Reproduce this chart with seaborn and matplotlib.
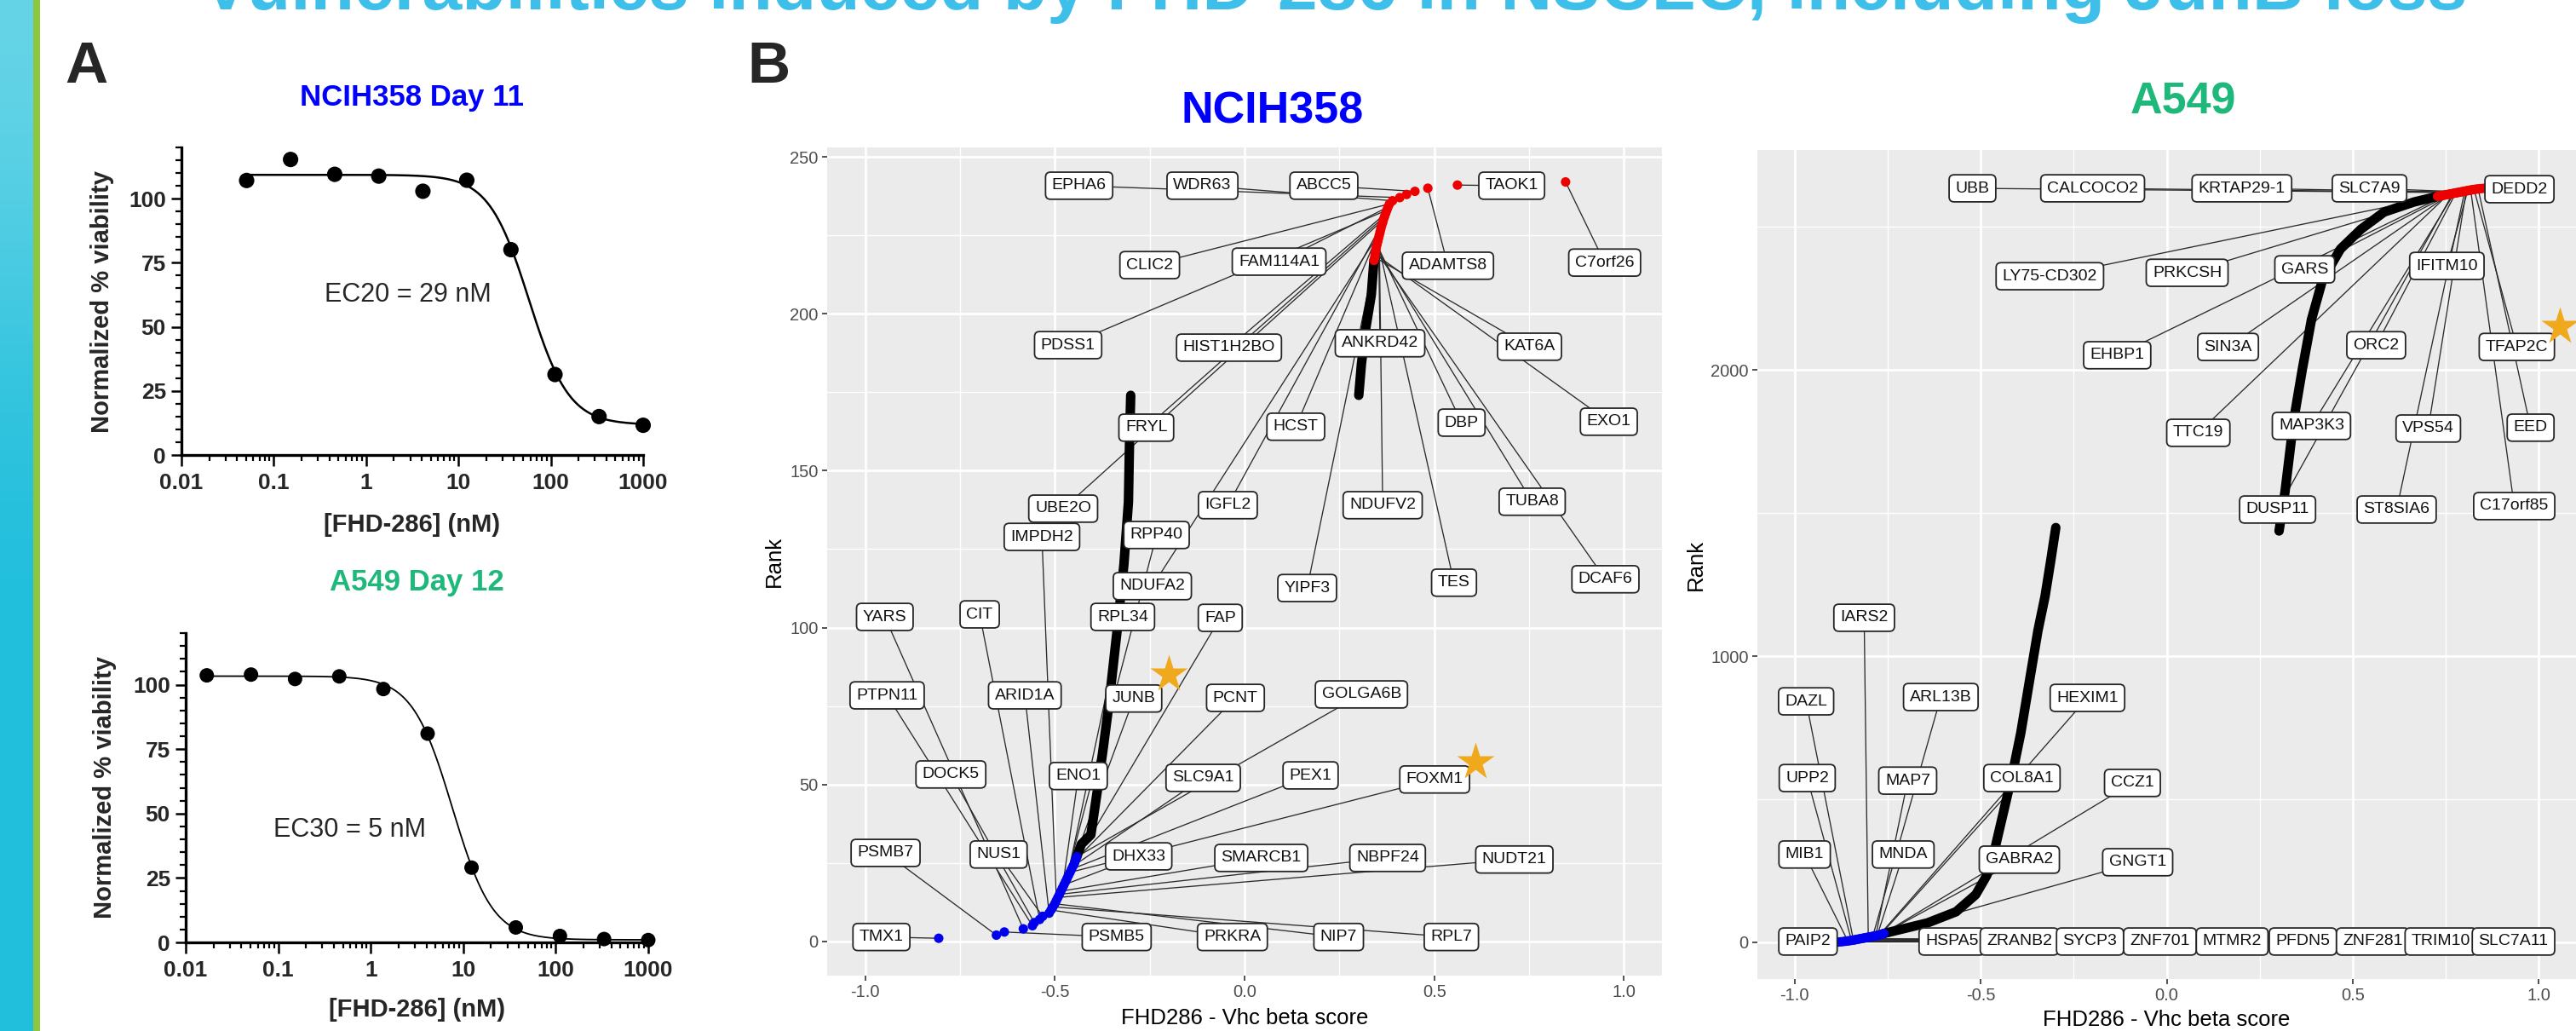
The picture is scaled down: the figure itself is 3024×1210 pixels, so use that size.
import numpy as np
import matplotlib
matplotlib.use("Agg")
import matplotlib.pyplot as plt
import seaborn as sns
from matplotlib import font_manager
from matplotlib.colors import LinearSegmentedColormap
from matplotlib.ticker import FixedLocator, LogLocator, MultipleLocator, NullFormatter
from matplotlib.transforms import ScaledTranslation

sns.set_theme(style="white")
plt.rcParams["font.family"] = ["Liberation Sans", "DejaVu Sans"]
plt.rcParams["axes.unicode_minus"] = False

_installed = {f.name for f in font_manager.fontManager.ttflist}
NARROW = "Liberation Sans Narrow" if "Liberation Sans Narrow" in _installed else None

# ---------------------------------------------------------------- data
# Panel A: viability after FHD-286 treatment (3-fold dilution series, nM)
h358_dose = [0.0508, 0.152, 0.457, 1.37, 4.12, 12.3, 37.0, 111.0, 333.0, 1000.0]
h358_viab = [107.1, 115.3, 109.5, 108.8, 102.9, 107.2, 80.1, 31.4, 15.0, 11.6]
a549_dose = [0.0169, 0.0508, 0.152, 0.457, 1.37, 4.12, 12.3, 37.0, 111.0, 333.0, 1000.0]
a549_viab = [103.6, 103.9, 102.2, 103.2, 98.3, 81.0, 29.0, 5.8, 2.5, 1.3, 0.9]

# four-parameter logistic fits
h358_fit = {"top": 109.3, "bottom": 11.8, "hill": 2.0}
h358_ec = (20, 29)      # EC20 = 29 nM
a549_fit = {"top": 103.3, "bottom": 1.0, "hill": 2.0}
a549_ec = (30, 5)       # EC30 = 5 nM

# Panel B, NCIH358: rank vs beta score
h358_blue_rank = [1, 2, 3, 4, 5, 6, 7, 8, 9, 10, 11, 12, 13, 14, 15, 16, 17, 18, 19, 20,
                  21, 22, 23, 24, 25, 26, 27]
h358_blue_beta = [-0.806, -0.654, -0.633, -0.583, -0.559, -0.554, -0.540, -0.532, -0.515, -0.510,
                  -0.505, -0.500, -0.496, -0.492, -0.488, -0.484, -0.480, -0.476, -0.472, -0.468,
                  -0.464, -0.460, -0.456, -0.452, -0.448, -0.445, -0.442]
h358_neg_rank = [27, 31, 34, 48, 62, 75, 100, 120, 140, 160, 174]
h358_neg_beta = [-0.442, -0.430, -0.405, -0.388, -0.372, -0.358, -0.335, -0.318, -0.306, -0.303, -0.300]
h358_pos_rank = [174, 184, 195, 206, 217]
h358_pos_beta = [0.301, 0.308, 0.319, 0.334, 0.341]
h358_red_rank = [217, 218, 219, 220, 221, 222, 223, 224, 225, 226, 227, 228, 229, 230,
                 231, 232, 233, 234, 235, 236, 237, 238, 239, 240, 241, 242]
h358_red_beta = [0.341, 0.343, 0.344, 0.346, 0.347, 0.349, 0.351, 0.353, 0.355, 0.357,
                 0.359, 0.361, 0.364, 0.366, 0.369, 0.372, 0.375, 0.378, 0.382, 0.390,
                 0.409, 0.427, 0.449, 0.483, 0.561, 0.846]

h358_genes = ["TMX1", "PSMB7", "PSMB5", "YARS", "PTPN11", "DOCK5", "CIT", "NUS1", "ARID1A",
              "PRKRA", "RPL7", "NIP7", "IMPDH2", "NUDT21", "NBPF24", "SMARCB1", "ENO1", "DHX33",
              "RPP40", "RPL34", "JUNB", "FOXM1", "PEX1", "SLC9A1", "FAP", "PCNT", "GOLGA6B",
              "KAT6A", "EXO1", "DCAF6", "TUBA8", "DBP", "TES", "ANKRD42", "NDUFV2", "NDUFA2",
              "YIPF3", "HCST", "IGFL2", "UBE2O", "FRYL", "HIST1H2BO", "PDSS1", "FAM114A1",
              "CLIC2", "WDR63", "EPHA6", "ABCC5", "ADAMTS8", "TAOK1", "C7orf26"]
h358_gene_rank = [1, 2, 3, 4, 5, 6, 7, 8, 9, 10, 11, 12, 13, 14, 15, 16, 17, 18, 19, 20, 21,
                  22, 23, 24, 25, 26, 27,
                  218, 219, 220, 221, 222, 223, 224, 225, 226, 227, 228, 229, 230, 231, 232,
                  233, 234, 235, 236, 237, 239, 240, 241, 242]

# Panel B, A549: rank vs beta score
a549_blue_rank = [1, 2, 3, 4, 5, 6, 7, 8, 9, 10, 11, 12, 13, 14, 15, 16, 17, 18, 19, 20,
                  21, 22, 23, 24, 25, 26, 27, 28, 29, 30, 31]
a549_blue_beta = [-0.884, -0.876, -0.869, -0.863, -0.857, -0.852, -0.847, -0.842, -0.838, -0.834,
                  -0.830, -0.826, -0.822, -0.818, -0.814, -0.810, -0.806, -0.802, -0.798, -0.794,
                  -0.790, -0.786, -0.782, -0.778, -0.775, -0.772, -0.769, -0.766, -0.764, -0.762,
                  -0.760]
a549_neg_rank = [31, 50, 68, 107, 167, 235, 336, 464, 592, 732, 911, 1089, 1208, 1330, 1449]
a549_neg_beta = [-0.760, -0.700, -0.643, -0.566, -0.513, -0.483, -0.460, -0.437, -0.414,
                 -0.392, -0.369, -0.346, -0.327, -0.312, -0.298]
a549_pos_rank = [1437, 1574, 1821, 1998, 2175, 2315, 2422, 2491, 2551, 2586, 2606]
a549_pos_beta = [0.302, 0.318, 0.341, 0.364, 0.389, 0.419, 0.467, 0.522, 0.584, 0.664, 0.728]
a549_red_rank = [2606, 2607, 2608, 2609, 2610, 2611, 2612, 2613, 2614, 2615, 2616, 2617, 2618,
                 2619, 2620, 2621, 2622, 2623, 2624, 2625, 2626, 2627, 2628, 2629, 2630, 2631,
                 2632, 2633, 2634]
a549_red_beta = [0.728, 0.733, 0.737, 0.741, 0.745, 0.749, 0.753, 0.757, 0.761, 0.765, 0.769,
                 0.773, 0.777, 0.781, 0.785, 0.789, 0.793, 0.797, 0.801, 0.805, 0.809, 0.813,
                 0.817, 0.821, 0.826, 0.831, 0.837, 0.844, 0.852]

a549_genes = ["PAIP2", "HSPA5", "ZRANB2", "SYCP3", "MIB1", "ZNF701", "UPP2", "DAZL", "MTMR2",
              "PFDN5", "ZNF281", "TRIM10", "SLC7A11", "IARS2", "ARL13B", "MAP7", "MNDA",
              "HEXIM1", "COL8A1", "GABRA2", "CCZ1", "GNGT1",
              "LY75-CD302", "PRKCSH", "EHBP1", "TTC19", "SIN3A", "GARS", "DUSP11", "MAP3K3",
              "ORC2", "UBB", "CALCOCO2", "KRTAP29-1", "SLC7A9", "ST8SIA6", "VPS54", "IFITM10",
              "C17orf85", "TFAP2C", "EED", "DEDD2"]
a549_gene_rank = [1, 2, 3, 4, 5, 6, 7, 8, 9, 10, 11, 12, 13, 18, 21, 23, 24, 26, 27, 28, 29, 31,
                  2610, 2611, 2612, 2613, 2614, 2615, 2616, 2617, 2618, 2619, 2620, 2621, 2622,
                  2624, 2625, 2626, 2628, 2630, 2632, 2634]

# label box placement (data coordinates of box centres)
h358_label_pos = {
    "TMX1": (-0.957, 1.4), "PSMB7": (-0.946, 28.2), "PSMB5": (-0.337, 1.4), "YARS": (-0.948, 103.4),
    "PTPN11": (-0.942, 78.4), "DOCK5": (-0.774, 53.2), "CIT": (-0.698, 104.2), "NUS1": (-0.648, 27.7),
    "ARID1A": (-0.579, 78.4), "PRKRA": (-0.032, 1.4), "RPL7": (0.545, 1.4), "NIP7": (0.248, 1.4),
    "IMPDH2": (-0.534, 128.9), "NUDT21": (0.711, 26.1), "NBPF24": (0.377, 26.6),
    "SMARCB1": (0.044, 26.6), "ENO1": (-0.438, 52.7), "DHX33": (-0.279, 27.1),
    "RPP40": (-0.232, 129.5), "RPL34": (-0.321, 103.4), "JUNB": (-0.292, 77.4),
    "FOXM1": (0.501, 51.6), "PEX1": (0.174, 52.9), "SLC9A1": (-0.109, 52.1), "FAP": (-0.064, 103.1),
    "PCNT": (-0.024, 77.6), "GOLGA6B": (0.308, 78.7),
    "KAT6A": (0.751, 189.5), "EXO1": (0.960, 165.6), "DCAF6": (0.951, 115.4), "TUBA8": (0.758, 140.1),
    "DBP": (0.572, 165.3), "TES": (0.552, 114.3), "ANKRD42": (0.357, 190.6), "NDUFV2": (0.364, 139.0),
    "NDUFA2": (-0.243, 113.2), "YIPF3": (0.165, 112.6), "HCST": (0.135, 164.0),
    "IGFL2": (-0.044, 139.0), "UBE2O": (-0.478, 137.9), "FRYL": (-0.259, 163.7),
    "HIST1H2BO": (-0.041, 189.2), "PDSS1": (-0.465, 190.0), "FAM114A1": (0.091, 216.6),
    "CLIC2": (-0.250, 215.5), "WDR63": (-0.111, 240.8), "EPHA6": (-0.436, 240.8),
    "ABCC5": (0.209, 240.8), "ADAMTS8": (0.536, 215.3), "TAOK1": (0.704, 240.8),
    "C7orf26": (0.949, 216.3),
}
a549_label_pos = {
    "PAIP2": (-0.964, 3), "HSPA5": (-0.577, 3), "ZRANB2": (-0.396, 3), "SYCP3": (-0.206, 3),
    "ZNF701": (-0.018, 3), "MTMR2": (0.176, 3), "PFDN5": (0.366, 3), "ZNF281": (0.554, 3),
    "TRIM10": (0.737, 3), "SLC7A11": (0.932, 3), "MIB1": (-0.973, 307), "UPP2": (-0.966, 574),
    "DAZL": (-0.969, 842), "IARS2": (-0.813, 1134), "ARL13B": (-0.607, 857), "MAP7": (-0.696, 565),
    "MNDA": (-0.708, 307), "HEXIM1": (-0.213, 854), "COL8A1": (-0.389, 574),
    "GABRA2": (-0.396, 289), "CCZ1": (-0.092, 557), "GNGT1": (-0.078, 280),
    "LY75-CD302": (-0.314, 2327), "PRKCSH": (0.055, 2339), "EHBP1": (-0.133, 2051),
    "TTC19": (0.085, 1780), "SIN3A": (0.165, 2080), "GARS": (0.371, 2351), "DUSP11": (0.298, 1512),
    "MAP3K3": (0.389, 1804), "ORC2": (0.563, 2086), "UBB": (-0.522, 2634),
    "CALCOCO2": (-0.199, 2634), "KRTAP29-1": (0.202, 2634), "SLC7A9": (0.545, 2634),
    "ST8SIA6": (0.618, 1512), "VPS54": (0.703, 1795), "IFITM10": (0.753, 2363),
    "C17orf85": (0.934, 1524), "TFAP2C": (0.941, 2080), "EED": (0.978, 1798),
    "DEDD2": (0.948, 2631),
}
# highlighted genes: star offset from the label centre (inches)
star_offsets = {"JUNB": (0.41, 0.29), "FOXM1": (0.48, 0.21), "TFAP2C": (0.50, 0.24)}

# ---------------------------------------------------------------- figure
W, H = 3024, 1210
fig = plt.figure(figsize=(W / 100, H / 100), dpi=100)
fig.patch.set_facecolor("white")


def px_rect(x0, y0, x1, y1):
    return [x0 / W, 1 - y1 / H, (x1 - x0) / W, (y1 - y0) / H]


# decorative side band
band = fig.add_axes(px_rect(0, 0, 39, H))
grad = np.array([[0.36], [0.30], [0.22], [0.12], [0.05], [0.0], [0.0], [0.0], [0.0], [0.0]])
band_cmap = LinearSegmentedColormap.from_list("band", ["#22BFDC", "#7FDCEB"])
band.imshow(grad, aspect="auto", cmap=band_cmap, vmin=0, vmax=0.5, interpolation="bicubic")
band.set_axis_off()
green = fig.add_axes(px_rect(39, 0, 47, H))
green.set_facecolor("#8DC63F")
green.set_xticks([]); green.set_yticks([])
for s in green.spines.values():
    s.set_visible(False)

fig.text(0.518, 1 - 11 / H, "Vulnerabilities induced by FHD-286 in NSCLC, including JunB loss",
         ha="center", va="baseline", fontsize=60.5, fontweight="bold", color="#3DBFE9")
fig.text(76 / W, 1 - 97 / H, "A", ha="left", va="baseline", fontsize=50, fontweight="bold")
fig.text(877 / W, 1 - 97 / H, "B", ha="left", va="baseline", fontsize=50, fontweight="bold")

if NARROW:
    narrow_kw = {"family": [NARROW, "Liberation Sans"]}
    lab_fs, ec_fs = 25.5, 26.5
else:
    narrow_kw = {}
    lab_fs, ec_fs = 21.0, 22.0


def dose_panel(ax, dose, viab, fit, ec, title, tcolor, ec_xy, ylab_x, xlab_y, curve_lw, dot_s):
    pct, val = ec
    frac = pct / 100.0
    ec50 = val / (frac / (1 - frac)) ** (1 / fit["hill"])
    xs = np.logspace(np.log10(dose[0]), 3, 400)
    ys = fit["bottom"] + (fit["top"] - fit["bottom"]) / (1 + (xs / ec50) ** fit["hill"])
    sns.lineplot(x=xs, y=ys, estimator=None, sort=False, color="black", lw=curve_lw,
                 ax=ax, zorder=2)
    sns.scatterplot(x=dose, y=viab, color="black", s=dot_s, edgecolor="none", ax=ax,
                    zorder=3, clip_on=False)
    ax.set_xscale("log")
    ax.set_xlim(0.01, 1000)
    ax.set_ylim(0, 120)
    ax.set_facecolor("white")
    for side in ("top", "right"):
        ax.spines[side].set_visible(False)
    for side in ("left", "bottom"):
        ax.spines[side].set_linewidth(2.4)
        ax.spines[side].set_color("black")
    ax.xaxis.set_major_locator(FixedLocator([0.01, 0.1, 1, 10, 100, 1000]))
    ax.set_xticklabels(["0.01", "0.1", "1", "10", "100", "1000"])
    ax.xaxis.set_minor_locator(LogLocator(base=10, subs=np.arange(2, 10)))
    ax.xaxis.set_minor_formatter(NullFormatter())
    ax.set_yticks([0, 25, 50, 75, 100])
    ax.yaxis.set_minor_locator(MultipleLocator(5))
    ax.tick_params(which="major", direction="out", length=9, width=1.8, color="black",
                   labelsize=19, pad=4, left=True, bottom=True)
    ax.tick_params(which="minor", direction="out", length=4.8, width=1.6, color="black",
                   left=True, bottom=True)
    ax.tick_params(axis="x", which="major", pad=6)
    for lab in ax.get_xticklabels() + ax.get_yticklabels():
        lab.set_fontweight("bold")
    ax.grid(False)
    ax.set_ylabel("Normalized % viability", fontsize=lab_fs, fontweight="bold", **narrow_kw)
    ax.yaxis.set_label_coords(ylab_x, 0.5)
    ax.yaxis.label.set_verticalalignment("center")
    ax.set_xlabel("[FHD-286] (nM)", fontsize=lab_fs, fontweight="bold", **narrow_kw)
    ax.xaxis.set_label_coords(0.5, xlab_y)
    ax.xaxis.label.set_verticalalignment("center")
    ax.text(0.5, 1.163, title, transform=ax.transAxes, ha="center", va="center",
            fontsize=25, fontweight="bold", color=tcolor)
    ax.text(ec_xy[0], ec_xy[1], f"EC{pct} = {val} nM", transform=ax.transAxes,
            ha="center", va="center", fontsize=ec_fs, **narrow_kw)


axA1 = fig.add_axes(px_rect(213, 173, 755, 534))
axA2 = fig.add_axes(px_rect(218, 743, 761, 1106))
dose_panel(axA1, h358_dose, h358_viab, h358_fit, h358_ec, "NCIH358 Day 11", "#0000FF",
           (0.491, 0.521), -0.172, -0.228, 1.8, 170)
dose_panel(axA2, a549_dose, a549_viab, a549_fit, a549_ec, "A549 Day 12", "#1DB87A",
           (0.354, 0.364), -0.175, -0.218, 1.3, 150)

DOT = 8.0  # point diameter in pt


def rank_panel(ax, blue_rank, blue_beta, neg_rank, neg_beta, pos_rank, pos_beta,
               red_rank, red_beta, genes, gene_rank, label_pos, ylim, yticks, yminor,
               title, tcolor, title_xy, ylab_x, xlab_y):
    ax.set_facecolor("#EBEBEB")
    beta_of = dict(zip(blue_rank + red_rank, blue_beta + red_beta))

    # connectors from label boxes to their genes
    for g, r in zip(genes, gene_rank):
        lx, ly = label_pos[g]
        ax.plot([lx, beta_of[r]], [ly, r], color="#2B2B2B", lw=0.95, zorder=2,
                solid_capstyle="butt")

    for rk, bt in ((neg_rank, neg_beta), (pos_rank, pos_beta)):
        sns.lineplot(x=bt, y=rk, sort=False, estimator=None, color="black", lw=DOT,
                     solid_capstyle="round", ax=ax, zorder=3)
    sns.scatterplot(x=red_beta, y=red_rank, color="#EE0000", s=DOT ** 2, edgecolor="none",
                    ax=ax, zorder=4)
    sns.scatterplot(x=blue_beta, y=blue_rank, color="#0000EE", s=DOT ** 2, edgecolor="none",
                    ax=ax, zorder=4)

    for g in genes:
        lx, ly = label_pos[g]
        ax.text(lx, ly, g, ha="center", va="center", fontsize=14, color="#111111",
                zorder=6, clip_on=False,
                bbox=dict(boxstyle="round,pad=0.38,rounding_size=0.3", fc="white",
                          ec="#262626", lw=1.3))
        if g in star_offsets:
            dx, dy = star_offsets[g]
            tr = ax.transData + ScaledTranslation(dx, dy, fig.dpi_scale_trans)
            ax.plot([lx], [ly], marker="*", ms=33, color="#F0A81C", mec="none",
                    transform=tr, zorder=7, clip_on=False)

    ax.set_xlim(-1.1, 1.1)
    ax.set_ylim(*ylim)
    ax.set_xticks([-1.0, -0.5, 0.0, 0.5, 1.0])
    ax.set_xticklabels(["-1.0", "-0.5", "0.0", "0.5", "1.0"])
    ax.set_xticks([-0.75, -0.25, 0.25, 0.75], minor=True)
    ax.set_yticks(yticks)
    ax.set_yticks(yminor, minor=True)
    ax.grid(which="major", color="white", lw=2.0)
    ax.grid(which="minor", color="white", lw=1.0)
    ax.set_axisbelow(True)
    for s in ax.spines.values():
        s.set_visible(False)
    ax.tick_params(which="major", direction="out", length=4.5, width=1.2, color="#333333",
                   labelsize=14.5, labelcolor="#4D4D4D", pad=3, left=True, bottom=True)
    ax.tick_params(which="minor", length=0)
    ax.set_xlabel("FHD286 - Vhc beta score", fontsize=18.5, color="black")
    ax.xaxis.set_label_coords(0.5, xlab_y)
    ax.xaxis.label.set_verticalalignment("center")
    ax.set_ylabel("Rank", fontsize=18.5, color="black")
    ax.yaxis.set_label_coords(ylab_x, 0.5)
    ax.yaxis.label.set_verticalalignment("center")
    ax.text(title_xy[0], title_xy[1], title, transform=ax.transAxes, ha="center",
            va="center", fontsize=37.5, fontweight="bold", color=tcolor)


axB1 = fig.add_axes(px_rect(971, 173, 1951, 1145))
axB2 = fig.add_axes(px_rect(2063, 176, 3024, 1149))
rank_panel(axB1, h358_blue_rank, h358_blue_beta, h358_neg_rank, h358_neg_beta,
           h358_pos_rank, h358_pos_beta, h358_red_rank, h358_red_beta,
           h358_genes, h358_gene_rank, h358_label_pos, (-10.9, 253),
           [0, 50, 100, 150, 200, 250], [25, 75, 125, 175, 225],
           "NCIH358", "#0000FF", (0.533, 1.043), -0.0633, -0.0514)
rank_panel(axB2, a549_blue_rank, a549_blue_beta, a549_neg_rank, a549_neg_beta,
           a549_pos_rank, a549_pos_beta, a549_red_rank, a549_red_beta,
           a549_genes, a549_gene_rank, a549_label_pos, (-128, 2768),
           [0, 1000, 2000], [500, 1500, 2500],
           "A549", "#1DB87A", (0.520, 1.058), -0.0749, -0.0493)

fig.savefig("out.png", dpi=100)
